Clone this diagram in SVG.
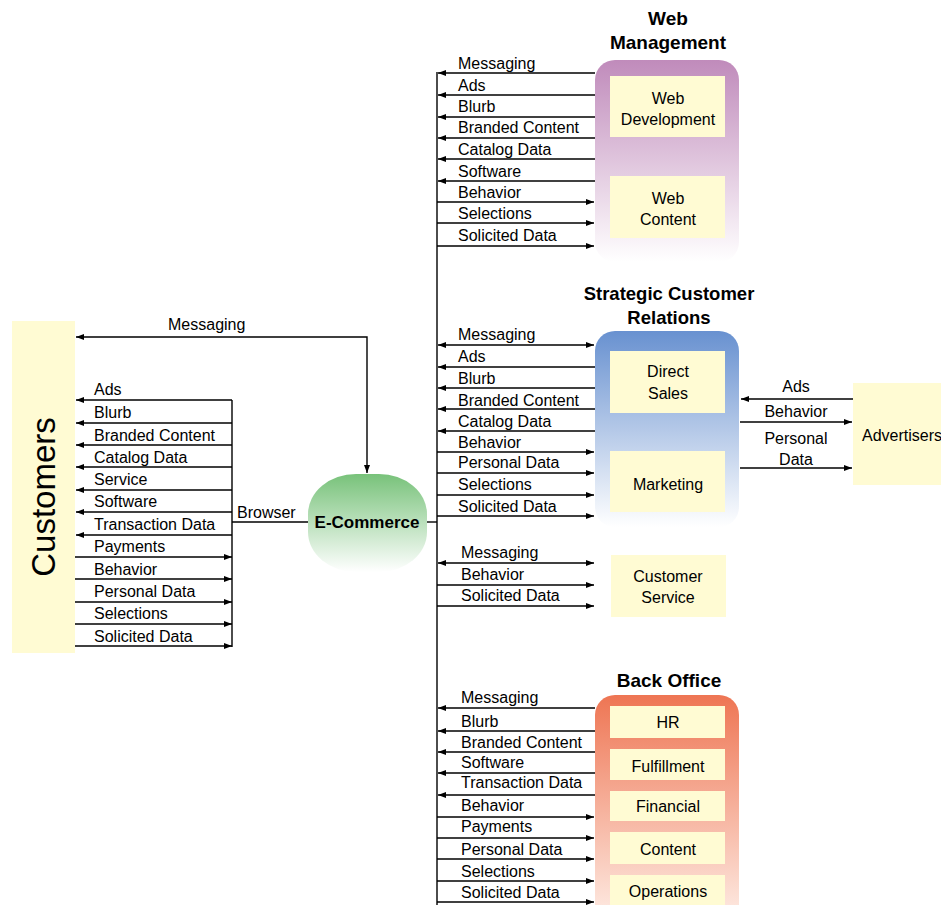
<svg xmlns="http://www.w3.org/2000/svg" width="941" height="905" viewBox="0 0 941 905">
<defs>
<style>
text{font-family:"Liberation Sans",Arial,sans-serif;font-size:16px;fill:#000}
.t{font-weight:bold;font-size:19px;text-anchor:middle}
.c{text-anchor:middle}
.box{fill:#FFFBD3}
.ln{stroke:#000;stroke-width:1.4;fill:none}
.ar{stroke:#000;stroke-width:1.4;fill:none;marker-end:url(#ah)}
.ab{stroke:#000;stroke-width:1.4;fill:none;marker-end:url(#ah);marker-start:url(#ahs)}
</style>
<marker id="ah" markerUnits="userSpaceOnUse" markerWidth="9" markerHeight="7" refX="8" refY="3.5" orient="auto"><path d="M0,0.5 L8,3.5 L0,6.5 z" fill="#000"/></marker>
<marker id="ahs" markerUnits="userSpaceOnUse" markerWidth="9" markerHeight="7" refX="8" refY="3.5" orient="auto-start-reverse"><path d="M0,0.5 L8,3.5 L0,6.5 z" fill="#000"/></marker>
<linearGradient id="gP" x1="0" y1="0" x2="0" y2="1"><stop offset="0" stop-color="#C08BBB"/><stop offset="1" stop-color="#FFFFFF"/></linearGradient>
<linearGradient id="gB" x1="0" y1="0" x2="0" y2="1"><stop offset="0" stop-color="#6891D0"/><stop offset="1" stop-color="#FFFFFF"/></linearGradient>
<linearGradient id="gO" x1="0" y1="0" x2="0" y2="1"><stop offset="0" stop-color="#EE7553"/><stop offset="1" stop-color="#FFF4EE"/></linearGradient>
<linearGradient id="gG" x1="0" y1="0" x2="0" y2="1"><stop offset="0" stop-color="#78C27A"/><stop offset="1" stop-color="#FFFFFF"/></linearGradient>
</defs>
<rect width="941" height="905" fill="#fff"/>

<g id="customers">
<rect class="box" x="12" y="321" width="63" height="332"/>
<text transform="translate(55,497) rotate(-90)" class="c" style="font-size:33px">Customers</text>
</g>

<g id="ecommerce">
<rect x="308" y="474" width="119" height="98" rx="48" ry="40" fill="url(#gG)"/>
<text x="367" y="528" class="c" style="font-weight:bold;font-size:17px">E-Commerce</text>
</g>

<g id="web-management">
<text x="668" y="25" class="t">Web</text>
<text x="668" y="49" class="t">Management</text>
<rect x="595" y="60" width="144" height="202" rx="20" fill="url(#gP)"/>
<g id="web-development"><rect class="box" x="610" y="76" width="115" height="61"/>
<text x="668" y="104" class="c">Web</text><text x="668" y="125" class="c">Development</text></g>
<g id="web-content"><rect class="box" x="610" y="176" width="115" height="62"/>
<text x="668" y="204" class="c">Web</text><text x="668" y="225" class="c">Content</text></g>
</g>

<g id="strategic-customer-relations">
<text x="669" y="300" class="t" style="font-size:18.5px">Strategic Customer</text>
<text x="669" y="324" class="t" style="font-size:18.5px">Relations</text>
<rect x="595" y="331" width="144" height="196" rx="20" fill="url(#gB)"/>
<g id="direct-sales"><rect class="box" x="610" y="351" width="115" height="62"/>
<text x="668" y="377" class="c">Direct</text><text x="668" y="399" class="c">Sales</text></g>
<g id="marketing"><rect class="box" x="610" y="451" width="115" height="61"/>
<text x="668" y="490" class="c">Marketing</text></g>
</g>

<g id="advertisers">
<rect class="box" x="853" y="383" width="88" height="102"/>
<text x="862" y="441">Advertisers</text>
</g>

<g id="customer-service">
<rect class="box" x="611" y="555" width="115" height="62"/>
<text x="668" y="582" class="c">Customer</text><text x="668" y="603" class="c">Service</text>
</g>

<g id="back-office">
<text x="669" y="687" class="t">Back Office</text>
<rect x="595" y="695" width="144" height="240" rx="20" fill="url(#gO)"/>
<g id="hr"><rect class="box" x="610" y="706" width="115" height="32"/><text x="668" y="728" class="c">HR</text></g>
<g id="fulfillment"><rect class="box" x="610" y="749" width="115" height="31"/><text x="668" y="772" class="c">Fulfillment</text></g>
<g id="financial"><rect class="box" x="610" y="791" width="115" height="30"/><text x="668" y="812" class="c">Financial</text></g>
<g id="content"><rect class="box" x="610" y="832" width="115" height="32"/><text x="668" y="855" class="c">Content</text></g>
<g id="operations"><rect class="box" x="610" y="875" width="115" height="35"/><text x="668" y="897" class="c">Operations</text></g>
</g>

<g id="connectors">
<!-- Customers <-> E-Commerce messaging -->
<path class="ab" d="M76,337 L367,337 L367,473"/>
<text x="168" y="330">Messaging</text>
<!-- left bus -->
<line class="ln" x1="232" y1="400" x2="232" y2="647"/>
<line class="ln" x1="232" y1="522" x2="308" y2="522"/>
<text x="237" y="518">Browser</text>
<g>
<line class="ar" x1="232" y1="400" x2="76" y2="400"/><text x="94" y="395">Ads</text>
<line class="ar" x1="232" y1="423" x2="76" y2="423"/><text x="94" y="418">Blurb</text>
<line class="ar" x1="232" y1="445" x2="76" y2="445"/><text x="94" y="441">Branded Content</text>
<line class="ar" x1="232" y1="467" x2="76" y2="467"/><text x="94" y="463">Catalog Data</text>
<line class="ar" x1="232" y1="490" x2="76" y2="490"/><text x="94" y="485">Service</text>
<line class="ar" x1="232" y1="512" x2="76" y2="512"/><text x="94" y="507">Software</text>
<line class="ar" x1="232" y1="535" x2="76" y2="535"/><text x="94" y="530">Transaction Data</text>
<line class="ar" x1="75" y1="557" x2="232" y2="557"/><text x="94" y="552">Payments</text>
<line class="ar" x1="75" y1="579" x2="232" y2="579"/><text x="94" y="575">Behavior</text>
<line class="ar" x1="75" y1="602" x2="232" y2="602"/><text x="94" y="597">Personal Data</text>
<line class="ar" x1="75" y1="624" x2="232" y2="624"/><text x="94" y="619">Selections</text>
<line class="ar" x1="75" y1="646" x2="232" y2="646"/><text x="94" y="642">Solicited Data</text>
</g>
<!-- main bus -->
<line class="ln" x1="427" y1="522" x2="437" y2="522"/>
<line class="ln" x1="437" y1="72" x2="437" y2="905"/>
<!-- Web management -->
<line class="ar" x1="595" y1="73" x2="438" y2="73"/><text x="458" y="69">Messaging</text>
<line class="ar" x1="595" y1="95" x2="438" y2="95"/><text x="458" y="91">Ads</text>
<line class="ar" x1="595" y1="117" x2="438" y2="117"/><text x="458" y="112">Blurb</text>
<line class="ar" x1="595" y1="138" x2="438" y2="138"/><text x="458" y="133">Branded Content</text>
<line class="ar" x1="595" y1="159" x2="438" y2="159"/><text x="458" y="155">Catalog Data</text>
<line class="ar" x1="595" y1="181" x2="438" y2="181"/><text x="458" y="177">Software</text>
<line class="ar" x1="437" y1="202" x2="594" y2="202"/><text x="458" y="198">Behavior</text>
<line class="ar" x1="437" y1="223" x2="594" y2="223"/><text x="458" y="219">Selections</text>
<line class="ar" x1="437" y1="246" x2="594" y2="246"/><text x="458" y="241">Solicited Data</text>
<!-- Strategic -->
<line class="ab" x1="438" y1="345" x2="594" y2="345"/><text x="458" y="340">Messaging</text>
<line class="ar" x1="595" y1="367" x2="438" y2="367"/><text x="458" y="362">Ads</text>
<line class="ar" x1="595" y1="388" x2="438" y2="388"/><text x="458" y="384">Blurb</text>
<line class="ar" x1="595" y1="409" x2="438" y2="409"/><text x="458" y="406">Branded Content</text>
<line class="ar" x1="595" y1="431" x2="438" y2="431"/><text x="458" y="427">Catalog Data</text>
<line class="ar" x1="437" y1="452" x2="594" y2="452"/><text x="458" y="448">Behavior</text>
<line class="ar" x1="437" y1="473" x2="594" y2="473"/><text x="458" y="468">Personal Data</text>
<line class="ar" x1="437" y1="495" x2="594" y2="495"/><text x="458" y="490">Selections</text>
<line class="ar" x1="437" y1="516" x2="594" y2="516"/><text x="458" y="512">Solicited Data</text>
<!-- Advertisers -->
<line class="ar" x1="853" y1="399" x2="741" y2="399"/><text x="796" y="392" class="c">Ads</text>
<line class="ar" x1="740" y1="422" x2="852" y2="422"/><text x="796" y="417" class="c">Behavior</text>
<line class="ar" x1="740" y1="468" x2="852" y2="468"/><text x="796" y="444" class="c">Personal</text><text x="796" y="465" class="c">Data</text>
<!-- Customer service -->
<line class="ab" x1="438" y1="563" x2="594" y2="563"/><text x="461" y="558">Messaging</text>
<line class="ar" x1="437" y1="585" x2="594" y2="585"/><text x="461" y="580">Behavior</text>
<line class="ar" x1="437" y1="606" x2="594" y2="606"/><text x="461" y="601">Solicited Data</text>
<!-- Back office -->
<line class="ar" x1="595" y1="708" x2="438" y2="708"/><text x="461" y="703">Messaging</text>
<line class="ar" x1="595" y1="731" x2="438" y2="731"/><text x="461" y="727">Blurb</text>
<line class="ar" x1="595" y1="752" x2="438" y2="752"/><text x="461" y="748">Branded Content</text>
<line class="ar" x1="595" y1="773" x2="438" y2="773"/><text x="461" y="768">Software</text>
<line class="ar" x1="595" y1="795" x2="438" y2="795"/><text x="461" y="788">Transaction Data</text>
<line class="ar" x1="437" y1="817" x2="594" y2="817"/><text x="461" y="811">Behavior</text>
<line class="ar" x1="437" y1="838" x2="594" y2="838"/><text x="461" y="832">Payments</text>
<line class="ar" x1="437" y1="859" x2="594" y2="859"/><text x="461" y="855">Personal Data</text>
<line class="ar" x1="437" y1="881" x2="594" y2="881"/><text x="461" y="877">Selections</text>
<line class="ar" x1="437" y1="902" x2="594" y2="902"/><text x="461" y="898">Solicited Data</text>
</g>
</svg>
